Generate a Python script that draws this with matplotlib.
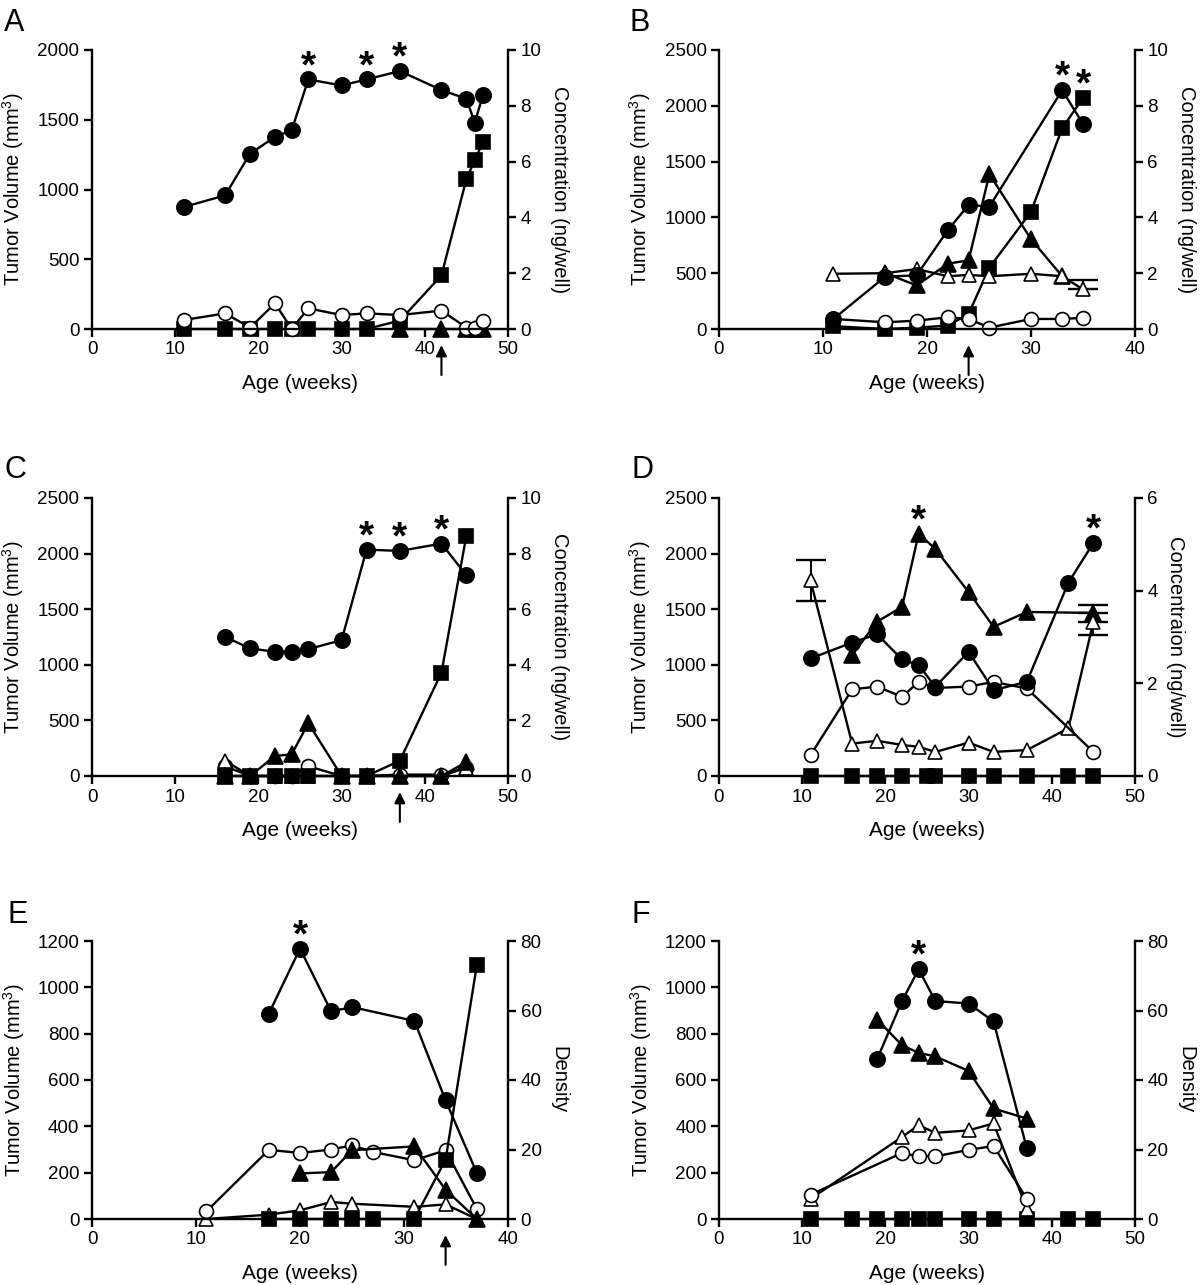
import matplotlib
matplotlib.use("Agg")
import matplotlib.pyplot as plt

plt.rcParams['font.family'] = ['Liberation Sans', 'DejaVu Sans']
plt.rcParams['mathtext.fontset'] = 'custom'
plt.rcParams['mathtext.rm'] = 'Liberation Sans'
plt.rcParams['mathtext.it'] = 'Liberation Sans:italic'
plt.rcParams['mathtext.bf'] = 'Liberation Sans:bold'

# ---- panel A ----
a_vol_wk = [11, 16, 19, 22, 24, 26, 30, 33, 37, 42, 45, 46, 47]
a_vol = [874, 958, 1257, 1377, 1425, 1789, 1746, 1789, 1849, 1713, 1650, 1480, 1677]
a_sq_wk = [11, 16, 19, 22, 24, 26, 30, 33, 37, 42, 45, 46, 47]
a_sq = [0, 0, 0, 0, 0, 0, 0, 0, 0.3, 1.92, 5.37, 6.05, 6.71]
a_ft_wk = [37, 42, 45, 46, 47]
a_ft = [0, 0, 0, 0, 0]
a_oc_wk = [11, 16, 19, 22, 24, 26, 30, 33, 37, 42, 45, 46, 47]
a_oc = [0.32, 0.56, 0.05, 0.92, 0.0, 0.74, 0.5, 0.56, 0.5, 0.66, 0.05, 0.05, 0.3]
a_stars = [26, 33, 37]
a_arrow = 42

# ---- panel B ----
b_vol_wk = [11, 16, 19, 22, 24, 26, 33, 35]
b_vol = [90, 470, 480, 886, 1112, 1097, 2140, 1837]
b_sq_wk = [11, 16, 19, 22, 24, 26, 30, 33, 35]
b_sq = [0.1, 0, 0.05, 0.12, 0.54, 2.2, 4.2, 7.2, 8.28]
b_ft_wk = [16, 19, 22, 24, 26, 30, 33]
b_ft = [2.0, 1.56, 2.34, 2.46, 5.55, 3.22, 1.89]
b_ot_wk = [11, 16, 19, 22, 24, 26, 30, 33, 35]
b_ot = [1.98, 2.0, 2.15, 1.89, 1.94, 1.89, 1.98, 1.89, 1.42]
b_ot_err_up = [0, 0, 0, 0, 0, 0, 0, 0, 0.32]
b_oc_wk = [11, 16, 19, 22, 24, 26, 30, 33, 35]
b_oc = [0.36, 0.24, 0.3, 0.42, 0.36, 0.05, 0.36, 0.36, 0.4]
b_stars = [33, 35]
b_arrow = 24

# ---- panel C ----
c_vol_wk = [16, 19, 22, 24, 26, 30, 33, 37, 42, 45]
c_vol = [1251, 1147, 1117, 1117, 1141, 1222, 2036, 2024, 2090, 1805]
c_wk = [16, 19, 22, 24, 26, 30, 33, 37, 42, 45]
c_sq = [0, 0, 0, 0, 0, 0, 0, 0.55, 3.72, 8.65]
c_ft = [0, 0, 0.72, 0.78, 1.9, 0, 0, 0, 0, 0.5]
c_ot = [0.55, 0, 0, 0, 0, 0, 0, 0, 0, 0.3]
c_oc = [0.35, 0, 0, 0, 0.35, 0, 0, 0.05, 0.05, 0.3]
c_stars = [33, 37, 42]
c_arrow = 37

# ---- panel D ----
d_vol_wk = [11, 16, 19, 22, 24, 26, 30, 33, 37, 42, 45]
d_vol = [1057, 1200, 1275, 1048, 997, 802, 1117, 772, 847, 1740, 2096]
d_sq_wk = [11, 16, 19, 22, 25, 26, 30, 33, 37, 42, 45]
d_sq = [0, 0, 0, 0, 0, 0, 0, 0, 0, 0, 0]
d_ft_wk = [16, 19, 22, 24, 26, 30, 33, 37, 45]
d_ft = [2.61, 3.33, 3.65, 5.23, 4.9, 3.97, 3.22, 3.54, 3.52]
d_ft_err_up = [0, 0, 0, 0, 0, 0, 0, 0, 0.17]
d_ot_wk = [11, 16, 19, 22, 24, 26, 30, 33, 37, 42, 45]
d_ot = [4.22, 0.70, 0.76, 0.67, 0.63, 0.52, 0.72, 0.52, 0.56, 1.03, 3.33]
d_ot_err_dn = [0.45, 0, 0, 0, 0, 0, 0, 0, 0, 0, 0.28]
d_ot_err_up = [0.45, 0, 0, 0, 0, 0, 0, 0, 0, 0, 0]
d_oc_wk = [11, 16, 19, 22, 24, 26, 30, 33, 37, 45]
d_oc = [0.45, 1.87, 1.93, 1.71, 2.03, 1.9, 1.93, 2.03, 1.89, 0.52]
d_stars = [24, 45]

# ---- panel E ----
e_vol_wk = [17, 20, 23, 25, 31, 34, 37]
e_vol = [886, 1167, 896, 915, 855, 512, 199]
e_sq_wk = [17, 20, 23, 25, 27, 31, 34, 37]
e_sq = [0, 0, 0, 0, 0, 0, 17.1, 73.0]
e_ft_wk = [20, 23, 25, 31, 34, 37]
e_ft = [13.1, 13.5, 19.8, 20.9, 8.4, 0]
e_ot_wk = [11, 17, 20, 23, 25, 31, 34, 37]
e_ot = [0, 1.25, 2.5, 4.9, 4.4, 3.5, 4.2, 0]
e_oc_wk = [11, 17, 20, 23, 25, 27, 31, 34, 37]
e_oc = [2.2, 19.9, 19.0, 20.0, 21.2, 19.3, 16.9, 19.8, 2.9]
e_stars = [20]
e_arrow = 34

# ---- panel F ----
f_vol_wk = [19, 22, 24, 26, 30, 33, 37]
f_vol = [690, 941, 1078, 941, 930, 853, 305]
f_sq_wk = [11, 16, 19, 22, 24, 26, 30, 33, 37, 42, 45]
f_sq = [0, 0, 0, 0, 0, 0, 0, 0, 0, 0, 0]
f_ft_wk = [19, 22, 24, 26, 30, 33, 37]
f_ft = [57.4, 50.0, 47.8, 46.8, 42.6, 31.8, 28.9]
f_ot_wk = [11, 22, 24, 26, 30, 33, 37]
f_ot = [5.8, 23.6, 27.0, 24.8, 25.5, 27.5, 3.0]
f_oc_wk = [11, 22, 24, 26, 30, 33, 37]
f_oc = [7.0, 19.0, 18.0, 18.0, 19.9, 21.0, 5.8]
f_stars = [24]

W, H = 1200, 1285
LW = 1.7


def rect(l, r, t, b):
    return [l / W, 1 - b / H, (r - l) / W, (b - t) / H]


def line(ax, x, y, marker, ms, filled=True):
    ax.plot(x, y, color='k', lw=LW, marker=marker, ms=ms,
            mfc='k' if filled else 'white', mec='k', mew=1.2, clip_on=False)


def panel(fig, box, letter, letter_xy, xmax, lmax, lstep, rmax, rstep, rlabel,
          vol, others, stars, arrow=None, errs=()):
    ax = fig.add_axes(box)
    ax2 = ax.twinx()
    ax.set_zorder(ax2.get_zorder() + 1)
    ax.patch.set_visible(False)

    # right-axis series (concentration / density)
    for x, y, marker, ms, filled in others:
        line(ax2, x, y, marker, ms, filled)
    # error bars only where an error was read
    for x, y, lo, hi in errs:
        keep = [i for i in range(len(x)) if lo[i] or hi[i]]
        ax2.errorbar([x[i] for i in keep], [y[i] for i in keep],
                     yerr=[[lo[i] for i in keep], [hi[i] for i in keep]],
                     fmt='none', ecolor='k', elinewidth=1.5,
                     capsize=11, capthick=1.7, clip_on=False, zorder=1)
    # tumour volume
    line(ax, vol[0], vol[1], 'o', 11)

    ax.set_xlim(0, xmax)
    ax.set_ylim(0, lmax)
    ax2.set_ylim(0, rmax)
    ax.set_xticks(range(0, xmax + 1, 10))
    ax.set_yticks(range(0, lmax + 1, lstep))
    ax2.set_yticks(range(0, rmax + 1, rstep))

    for s in ['top', 'right']:
        ax.spines[s].set_visible(False)
    for s in ['top', 'left', 'bottom']:
        ax2.spines[s].set_visible(False)
    for a in (ax, ax2):
        for s in a.spines.values():
            s.set_linewidth(LW)
        a.tick_params(direction='out', length=6, width=LW, labelsize=13.5, pad=3)

    ax.set_xlabel('Age (weeks)', fontsize=15, labelpad=11)
    ax.set_ylabel('Tumor Volume (mm$^3$)', fontsize=14.5, labelpad=8)
    ax2.set_ylabel(rlabel, fontsize=14.5, rotation=270, va='bottom', labelpad=6)

    # asterisks above the highest point of that week
    scale = lmax / rmax
    for wk in stars:
        tops = [v for x, v in zip(vol[0], vol[1]) if x == wk]
        for x, y, *_ in others:
            tops += [v * scale for xx, v in zip(x, y) if xx == wk]
        ax.annotate('*', xy=(wk, max(tops)), xytext=(0, -4), textcoords='offset points',
                    ha='center', va='bottom', fontsize=28, fontweight='bold',
                    annotation_clip=False)

    if arrow is not None:
        ax.annotate('', xy=(arrow, -0.058), xytext=(arrow, -0.165),
                    xycoords=ax.get_xaxis_transform(),
                    arrowprops=dict(arrowstyle='-|>', color='k', lw=1.5,
                                    mutation_scale=16, shrinkA=0, shrinkB=0),
                    annotation_clip=False)

    fig.text(letter_xy[0] / W, 1 - letter_xy[1] / H, letter, fontsize=22,
             ha='left', va='top')


fig = plt.figure(figsize=(12, 12.85), dpi=100)

LX, RX = (92, 508), (719, 1135)
ROW1, ROW2, ROW3 = (50, 329), (498, 776), (941, 1219)
conc = 'Concentration (ng/well)'

panel(fig, rect(*LX, *ROW1), 'A', (4, 8), 50, 2000, 500, 10, 2, conc,
      (a_vol_wk, a_vol),
      [(a_sq_wk, a_sq, 's', 10, True),
       (a_ft_wk, a_ft, '^', 11, True),
       (a_oc_wk, a_oc, 'o', 10, False)],
      a_stars, a_arrow)

panel(fig, rect(*RX, *ROW1), 'B', (629, 8), 40, 2500, 500, 10, 2, conc,
      (b_vol_wk, b_vol),
      [(b_sq_wk, b_sq, 's', 10, True),
       (b_ft_wk, b_ft, '^', 11, True),
       (b_ot_wk, b_ot, '^', 10, False),
       (b_oc_wk, b_oc, 'o', 10, False)],
      b_stars, b_arrow,
      errs=[(b_ot_wk, b_ot, [0] * len(b_ot), b_ot_err_up)])

panel(fig, rect(*LX, *ROW2), 'C', (4, 455), 50, 2500, 500, 10, 2, conc,
      (c_vol_wk, c_vol),
      [(c_wk, c_oc, 'o', 10, False),
       (c_wk, c_ot, '^', 10, False),
       (c_wk, c_ft, '^', 11, True),
       (c_wk, c_sq, 's', 10, True)],
      c_stars, c_arrow)

panel(fig, rect(*RX, *ROW2), 'D', (632, 455), 50, 2500, 500, 6, 2,
      'Concentraion (ng/well)',
      (d_vol_wk, d_vol),
      [(d_sq_wk, d_sq, 's', 10, True),
       (d_ft_wk, d_ft, '^', 11, True),
       (d_ot_wk, d_ot, '^', 10, False),
       (d_oc_wk, d_oc, 'o', 10, False)],
      d_stars, None,
      errs=[(d_ft_wk, d_ft, [0] * len(d_ft), d_ft_err_up),
            (d_ot_wk, d_ot, d_ot_err_dn, d_ot_err_up)])

panel(fig, rect(*LX, *ROW3), 'E', (8, 900), 40, 1200, 200, 80, 20, 'Density',
      (e_vol_wk, e_vol),
      [(e_ot_wk, e_ot, '^', 10, False),
       (e_oc_wk, e_oc, 'o', 10, False),
       (e_ft_wk, e_ft, '^', 11, True),
       (e_sq_wk, e_sq, 's', 10, True)],
      e_stars, e_arrow)

panel(fig, rect(*RX, *ROW3), 'F', (632, 900), 50, 1200, 200, 80, 20, 'Density',
      (f_vol_wk, f_vol),
      [(f_sq_wk, f_sq, 's', 10, True),
       (f_ot_wk, f_ot, '^', 10, False),
       (f_oc_wk, f_oc, 'o', 10, False),
       (f_ft_wk, f_ft, '^', 11, True)],
      f_stars, None)

fig.savefig('out.png', dpi=100)
